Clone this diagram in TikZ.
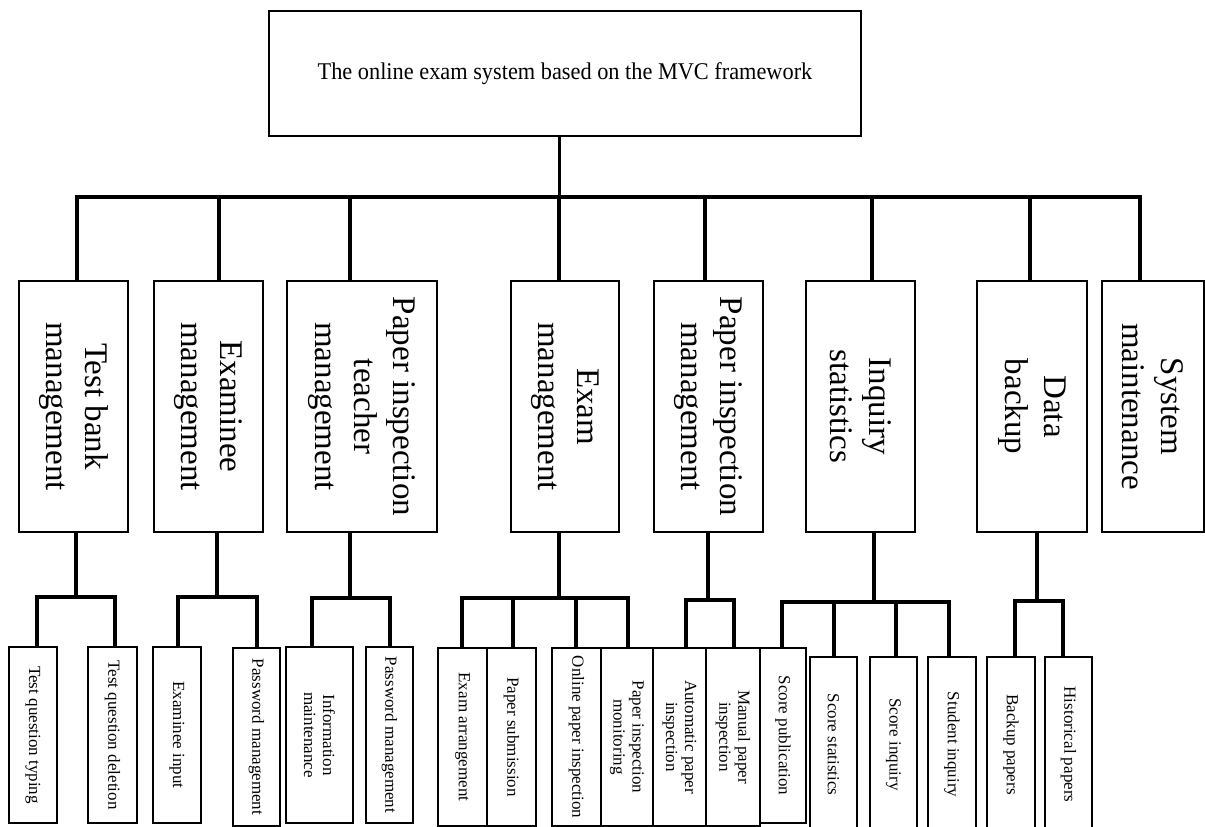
\documentclass[tikz,border=0pt]{standalone}
\usepackage{fontspec}
\setmainfont{Liberation Serif}
\tikzset{
  bx/.style={draw, line width=1.6pt, inner sep=0pt, fill=white},
  ttwo/.style={rotate=-90, align=center, inner sep=0pt, font=\fontsize{33}{39}\selectfont},
  tthree/.style={rotate=-90, align=center, inner sep=0pt, font=\fontsize{17}{19}\selectfont},
  bus/.style={line width=4.2pt, line cap=rect},
  drop/.style={line width=3.4pt},
  stem/.style={line width=3pt},
}
% name, x1, x2, y1, y2, text style, text
\newcommand\bxx[7]{%
  \node[bx, minimum width={#3-#2}, minimum height={#5-#4}] (#1) at ({(#2+#3)/2},{(#4+#5)/2}) {};
  \node[#6] (#1-t) at (#1.center) {#7};}
% parent, parent x, bus y, left x, right x, children list name/x
\newcommand\grp[6]{%
  \coordinate (#1-j) at (#2,#3);
  \coordinate (#1-l) at (#4,#3);
  \coordinate (#1-r) at (#5,#3);
  \draw[drop] (#1.south -| #1-j) -- (#1-j);
  \draw[bus] (#1-l) -- (#1-r);
  \foreach \c/\cx in {#6} {
    \coordinate (\c-j) at (\cx,#3);
    \draw[drop] (\c-j) -- (\c-j |- \c.north);
  }}
\begin{document}
\begin{tikzpicture}[x=1pt,y=-1pt]
\useasboundingbox (0,0) rectangle (1205,827);
\fill[white] (0,0) rectangle (1205,827);

% root
\node[bx, line width=2pt, minimum width=592pt, minimum height=125pt] (root) at (565,73.5)
  {\scalebox{0.93}[1]{\fontsize{24}{28}\selectfont The online exam system based on the MVC framework}};

% level 2
\bxx{tb}{19}{128}{281}{532}{ttwo}{Test bank\\management}
\bxx{ex}{154}{263}{281}{532}{ttwo}{Examinee\\management}
\bxx{pit}{287}{437}{281}{532}{ttwo}{Paper inspection\\teacher\\management}
\bxx{exm}{511}{619}{281}{532}{ttwo}{Exam\\management}
\bxx{pim}{654}{763}{281}{532}{ttwo}{Paper inspection\\management}
\bxx{inq}{806}{915}{281}{532}{ttwo}{Inquiry\\statistics}
\bxx{db}{977}{1087}{281}{532}{ttwo}{Data\\backup}
\bxx{sm}{1102}{1204}{281}{532}{ttwo}{System\\maintenance}

% level 3
\bxx{a1}{9}{57}{647}{823}{tthree}{Test question typing}
\bxx{a2}{88}{137}{647}{823}{tthree}{Test question deletion}
\bxx{b1}{153}{201}{647}{823}{tthree}{Examinee input}
\bxx{b2}{233}{280}{648}{826}{tthree}{Password management}
\bxx{c1}{286}{353}{647}{823}{tthree}{Information\\maintenance}
\bxx{c2}{366}{413}{647}{823}{tthree}{Password management}
\bxx{d1}{438}{487}{648}{826}{tthree}{Exam arrangement}
\bxx{d2}{487}{536}{648}{826}{tthree}{Paper submission}
\bxx{d3}{552}{601}{648}{826}{tthree}{Online paper inspection}
\bxx{d4}{601}{653}{648}{826}{tthree}{Paper inspection\\monitoring}
\bxx{e1}{653}{706}{648}{826}{tthree}{Automatic paper\\inspection}
\bxx{e2}{706}{760}{648}{826}{tthree}{Manual paper\\inspection}
\bxx{f1}{760}{806}{648}{823}{tthree}{Score publication}
\bxx{f2}{810}{857}{657}{832}{tthree}{Score statistics}
\bxx{f3}{870}{917}{657}{832}{tthree}{Score inquiry}
\bxx{f4}{928}{976}{657}{832}{tthree}{Student inquiry}
\bxx{g1}{987}{1035}{657}{832}{tthree}{Backup papers}
\bxx{g2}{1045}{1092}{657}{832}{tthree}{Historical papers}

% level 1 connectors
\coordinate (hb) at (559,197);
\draw[stem] (root.south -| hb) -- (hb);
\coordinate (k1) at (77,197);
\coordinate (k8) at (1140,197);
\draw[bus] (k1) -- (k8);
\foreach \n/\kx in {tb/77,ex/219,pit/350,exm/559,pim/705,inq/872,db/1030,sm/1140} {
  \coordinate (\n-k) at (\kx,197);
  \draw[drop] (\n-k) -- (\n-k |- \n.north);
}

% level 2 -> level 3 connectors
\grp{tb}{76}{597}{37}{115}{a1/37,a2/115}
\grp{ex}{217}{597}{178}{257}{b1/178,b2/257}
\grp{pit}{350}{598}{312}{390}{c1/312,c2/390}
\grp{exm}{559}{598}{462}{628}{d1/462,d2/513,d3/576,d4/628}
\grp{pim}{708}{600}{686}{734}{e1/686,e2/734}
\grp{inq}{874}{602}{782}{949}{f1/782,f2/834,f3/896,f4/949}
\grp{db}{1037}{601}{1015}{1063}{g1/1015,g2/1063}
\end{tikzpicture}
\end{document}
